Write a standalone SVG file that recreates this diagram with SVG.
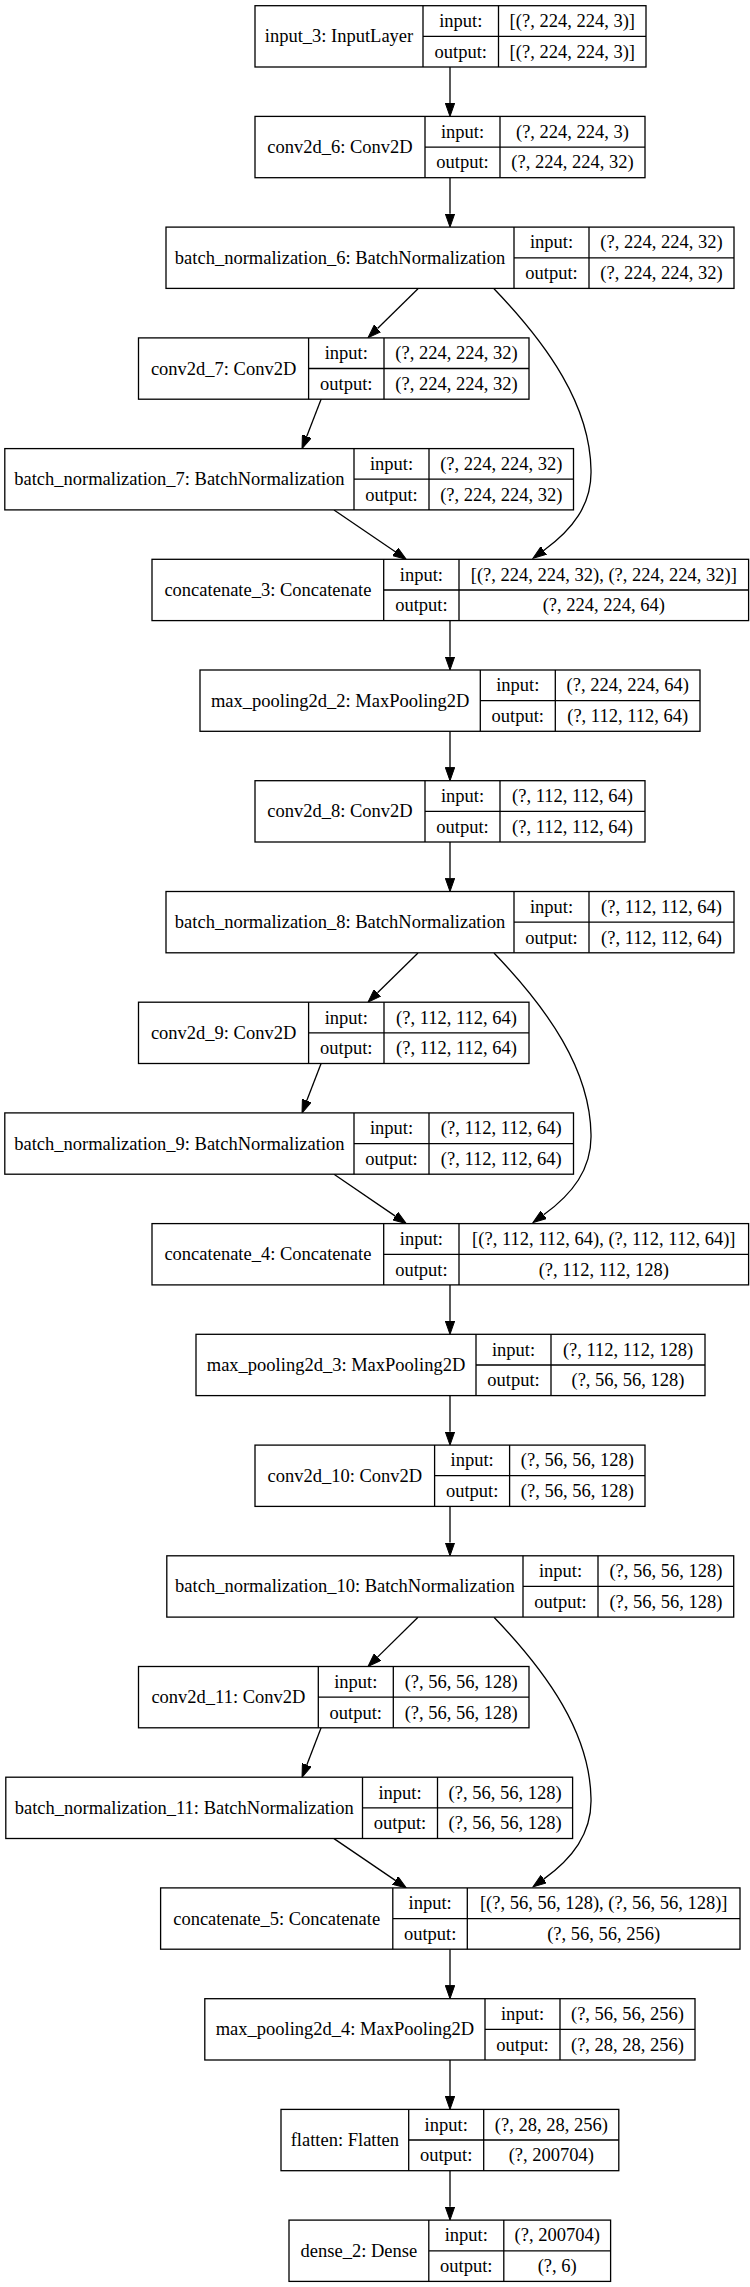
<svg xmlns="http://www.w3.org/2000/svg" width="750" height="2287" viewBox="0 0 750 2287">
<style>
.box{fill:#fff;stroke:#000;stroke-width:1.3}
.div{stroke:#000;stroke-width:1.3}
text{font-family:"Liberation Serif","Times New Roman",serif;font-size:18.5px;text-anchor:middle;fill:#000}
.e{fill:none;stroke:#000;stroke-width:1.3;marker-end:url(#ah)}
</style>
<defs>
<marker id="ah" markerUnits="userSpaceOnUse" viewBox="0 0 14 10" markerWidth="14" markerHeight="10" refX="0" refY="5" orient="auto"><path d="M0,0.3 L13.3,5 L0,9.7 Z" fill="#000" stroke="#000" stroke-width="1"/></marker>
</defs>
<rect width="750" height="2287" fill="#fff"/>
<g id="edges">
<path class="e" d="M450,67 L450,103.1"/>
<path class="e" d="M450,177.7 L450,213.8"/>
<path class="e" d="M418,288.7 L377.5,328.5"/>
<path class="e" d="M321.2,399 L306.8,436.3"/>
<path class="e" d="M494,288.7 C548,345 590,405 591,470 C592,505 572,530 543.7,550.5"/>
<path class="e" d="M334,510 L395.3,551.8"/>
<path class="e" d="M450,620.6 L450,656.7"/>
<path class="e" d="M450,731.3 L450,767.4"/>
<path class="e" d="M450,842 L450,878.2"/>
<path class="e" d="M418,953 L377.5,992.8"/>
<path class="e" d="M321.2,1063.3 L306.8,1100.6"/>
<path class="e" d="M494,953 C548,1009.3 590,1069.3 591,1134.3 C592,1169.3 572,1194.3 543.7,1214.8"/>
<path class="e" d="M334,1174.3 L395.3,1216.1"/>
<path class="e" d="M450,1284.9 L450,1321"/>
<path class="e" d="M450,1395.6 L450,1431.8"/>
<path class="e" d="M450,1506.4 L450,1542.5"/>
<path class="e" d="M418,1617.3 L377.5,1657.1"/>
<path class="e" d="M321.2,1727.6 L306.8,1764.9"/>
<path class="e" d="M494,1617.3 C548,1673.6 590,1733.6 591,1798.6 C592,1833.6 572,1858.6 543.7,1879.1"/>
<path class="e" d="M334,1838.6 L395.3,1880.4"/>
<path class="e" d="M450,1949.2 L450,1985.4"/>
<path class="e" d="M450,2060 L450,2096.1"/>
<path class="e" d="M450,2170.7 L450,2206.8"/>
</g>
<g id="input_3">
<rect class="box" x="255" y="5.7" width="391" height="61.3"/>
<path class="div" d="M423,5.7V67M498.5,5.7V67M423,36.35H646"/>
<text x="339" y="42.4">input_3: InputLayer</text>
<text x="460.8" y="27">input:</text><text x="460.8" y="57.7">output:</text>
<text x="572.3" y="27">[(?, 224, 224, 3)]</text><text x="572.3" y="57.7">[(?, 224, 224, 3)]</text>
</g>
<g id="conv2d_6">
<rect class="box" x="255" y="116.4" width="390" height="61.3"/>
<path class="div" d="M425,116.4V177.7M500,116.4V177.7M425,147.1H645"/>
<text x="340" y="153.1">conv2d_6: Conv2D</text>
<text x="462.5" y="137.7">input:</text><text x="462.5" y="168.4">output:</text>
<text x="572.5" y="137.7">(?, 224, 224, 3)</text><text x="572.5" y="168.4">(?, 224, 224, 32)</text>
</g>
<g id="batch_normalization_6">
<rect class="box" x="166" y="227.1" width="568" height="61.3"/>
<path class="div" d="M514,227.1V288.4M589,227.1V288.4M514,257.8H734"/>
<text x="340" y="263.8">batch_normalization_6: BatchNormalization</text>
<text x="551.5" y="248.4">input:</text><text x="551.5" y="279.1">output:</text>
<text x="661.5" y="248.4">(?, 224, 224, 32)</text><text x="661.5" y="279.1">(?, 224, 224, 32)</text>
</g>
<g id="conv2d_7">
<rect class="box" x="138.5" y="337.9" width="390.5" height="61.3"/>
<path class="div" d="M308.6,337.9V399.2M384,337.9V399.2M308.6,368.5H529"/>
<text x="223.6" y="374.5">conv2d_7: Conv2D</text>
<text x="346.3" y="359.2">input:</text><text x="346.3" y="389.9">output:</text>
<text x="456.5" y="359.2">(?, 224, 224, 32)</text><text x="456.5" y="389.9">(?, 224, 224, 32)</text>
</g>
<g id="batch_normalization_7">
<rect class="box" x="4.8" y="448.6" width="568.7" height="61.3"/>
<path class="div" d="M354,448.6V509.9M429,448.6V509.9M354,479.2H573.5"/>
<text x="179.4" y="485.2">batch_normalization_7: BatchNormalization</text>
<text x="391.5" y="469.9">input:</text><text x="391.5" y="500.6">output:</text>
<text x="501.3" y="469.9">(?, 224, 224, 32)</text><text x="501.3" y="500.6">(?, 224, 224, 32)</text>
</g>
<g id="concatenate_3">
<rect class="box" x="152" y="559.3" width="596.6" height="61.3"/>
<path class="div" d="M383.7,559.3V620.6M459,559.3V620.6M383.7,590H748.6"/>
<text x="267.9" y="596">concatenate_3: Concatenate</text>
<text x="421.4" y="580.6">input:</text><text x="421.4" y="611.3">output:</text>
<text x="603.8" y="580.6">[(?, 224, 224, 32), (?, 224, 224, 32)]</text><text x="603.8" y="611.3">(?, 224, 224, 64)</text>
</g>
<g id="max_pooling2d_2">
<rect class="box" x="200" y="670" width="500" height="61.3"/>
<path class="div" d="M480.3,670V731.3M555.3,670V731.3M480.3,700.7H700"/>
<text x="340.2" y="706.7">max_pooling2d_2: MaxPooling2D</text>
<text x="517.8" y="691.3">input:</text><text x="517.8" y="722">output:</text>
<text x="627.7" y="691.3">(?, 224, 224, 64)</text><text x="627.7" y="722">(?, 112, 112, 64)</text>
</g>
<g id="conv2d_8">
<rect class="box" x="255" y="780.7" width="390" height="61.3"/>
<path class="div" d="M425,780.7V842M500,780.7V842M425,811.4H645"/>
<text x="340" y="817.4">conv2d_8: Conv2D</text>
<text x="462.5" y="802">input:</text><text x="462.5" y="832.7">output:</text>
<text x="572.5" y="802">(?, 112, 112, 64)</text><text x="572.5" y="832.7">(?, 112, 112, 64)</text>
</g>
<g id="batch_normalization_8">
<rect class="box" x="166" y="891.5" width="568" height="61.3"/>
<path class="div" d="M514,891.5V952.8M589,891.5V952.8M514,922.1H734"/>
<text x="340" y="928.1">batch_normalization_8: BatchNormalization</text>
<text x="551.5" y="912.8">input:</text><text x="551.5" y="943.5">output:</text>
<text x="661.5" y="912.8">(?, 112, 112, 64)</text><text x="661.5" y="943.5">(?, 112, 112, 64)</text>
</g>
<g id="conv2d_9">
<rect class="box" x="138.5" y="1002.2" width="390.5" height="61.3"/>
<path class="div" d="M308.6,1002.2V1063.5M384,1002.2V1063.5M308.6,1032.8H529"/>
<text x="223.6" y="1038.8">conv2d_9: Conv2D</text>
<text x="346.3" y="1023.5">input:</text><text x="346.3" y="1054.2">output:</text>
<text x="456.5" y="1023.5">(?, 112, 112, 64)</text><text x="456.5" y="1054.2">(?, 112, 112, 64)</text>
</g>
<g id="batch_normalization_9">
<rect class="box" x="4.8" y="1112.9" width="568.7" height="61.3"/>
<path class="div" d="M354,1112.9V1174.2M429,1112.9V1174.2M354,1143.6H573.5"/>
<text x="179.4" y="1149.6">batch_normalization_9: BatchNormalization</text>
<text x="391.5" y="1134.2">input:</text><text x="391.5" y="1164.9">output:</text>
<text x="501.3" y="1134.2">(?, 112, 112, 64)</text><text x="501.3" y="1164.9">(?, 112, 112, 64)</text>
</g>
<g id="concatenate_4">
<rect class="box" x="152" y="1223.6" width="596.6" height="61.3"/>
<path class="div" d="M383.7,1223.6V1284.9M459,1223.6V1284.9M383.7,1254.3H748.6"/>
<text x="267.9" y="1260.3">concatenate_4: Concatenate</text>
<text x="421.4" y="1244.9">input:</text><text x="421.4" y="1275.6">output:</text>
<text x="603.8" y="1244.9">[(?, 112, 112, 64), (?, 112, 112, 64)]</text><text x="603.8" y="1275.6">(?, 112, 112, 128)</text>
</g>
<g id="max_pooling2d_3">
<rect class="box" x="196" y="1334.3" width="509" height="61.3"/>
<path class="div" d="M476,1334.3V1395.6M551,1334.3V1395.6M476,1365H705"/>
<text x="336" y="1371">max_pooling2d_3: MaxPooling2D</text>
<text x="513.5" y="1355.6">input:</text><text x="513.5" y="1386.3">output:</text>
<text x="628" y="1355.6">(?, 112, 112, 128)</text><text x="628" y="1386.3">(?, 56, 56, 128)</text>
</g>
<g id="conv2d_10">
<rect class="box" x="255" y="1445.1" width="390" height="61.3"/>
<path class="div" d="M434.6,1445.1V1506.4M509.6,1445.1V1506.4M434.6,1475.7H645"/>
<text x="344.8" y="1481.7">conv2d_10: Conv2D</text>
<text x="472.1" y="1466.4">input:</text><text x="472.1" y="1497.1">output:</text>
<text x="577.3" y="1466.4">(?, 56, 56, 128)</text><text x="577.3" y="1497.1">(?, 56, 56, 128)</text>
</g>
<g id="batch_normalization_10">
<rect class="box" x="166.8" y="1555.8" width="566.9" height="61.3"/>
<path class="div" d="M523,1555.8V1617.1M598,1555.8V1617.1M523,1586.4H733.7"/>
<text x="344.9" y="1592.4">batch_normalization_10: BatchNormalization</text>
<text x="560.5" y="1577.1">input:</text><text x="560.5" y="1607.8">output:</text>
<text x="665.9" y="1577.1">(?, 56, 56, 128)</text><text x="665.9" y="1607.8">(?, 56, 56, 128)</text>
</g>
<g id="conv2d_11">
<rect class="box" x="138.5" y="1666.5" width="390.5" height="61.3"/>
<path class="div" d="M318.3,1666.5V1727.8M393.3,1666.5V1727.8M318.3,1697.2H529"/>
<text x="228.4" y="1703.2">conv2d_11: Conv2D</text>
<text x="355.8" y="1687.8">input:</text><text x="355.8" y="1718.5">output:</text>
<text x="461.2" y="1687.8">(?, 56, 56, 128)</text><text x="461.2" y="1718.5">(?, 56, 56, 128)</text>
</g>
<g id="batch_normalization_11">
<rect class="box" x="5.8" y="1777.2" width="566.8" height="61.3"/>
<path class="div" d="M362.5,1777.2V1838.5M437.5,1777.2V1838.5M362.5,1807.9H572.6"/>
<text x="184.2" y="1813.9">batch_normalization_11: BatchNormalization</text>
<text x="400" y="1798.5">input:</text><text x="400" y="1829.2">output:</text>
<text x="505.1" y="1798.5">(?, 56, 56, 128)</text><text x="505.1" y="1829.2">(?, 56, 56, 128)</text>
</g>
<g id="concatenate_5">
<rect class="box" x="160.6" y="1887.9" width="579.4" height="61.3"/>
<path class="div" d="M392.8,1887.9V1949.2M467.3,1887.9V1949.2M392.8,1918.6H740"/>
<text x="276.7" y="1924.6">concatenate_5: Concatenate</text>
<text x="430.1" y="1909.2">input:</text><text x="430.1" y="1939.9">output:</text>
<text x="603.7" y="1909.2">[(?, 56, 56, 128), (?, 56, 56, 128)]</text><text x="603.7" y="1939.9">(?, 56, 56, 256)</text>
</g>
<g id="max_pooling2d_4">
<rect class="box" x="204.8" y="1998.7" width="490.2" height="61.3"/>
<path class="div" d="M485,1998.7V2060M560,1998.7V2060M485,2029.3H695"/>
<text x="344.9" y="2035.3">max_pooling2d_4: MaxPooling2D</text>
<text x="522.5" y="2020">input:</text><text x="522.5" y="2050.7">output:</text>
<text x="627.5" y="2020">(?, 56, 56, 256)</text><text x="627.5" y="2050.7">(?, 28, 28, 256)</text>
</g>
<g id="flatten">
<rect class="box" x="281" y="2109.4" width="337.8" height="61.3"/>
<path class="div" d="M408.7,2109.4V2170.7M483.7,2109.4V2170.7M408.7,2140H618.8"/>
<text x="344.9" y="2146">flatten: Flatten</text>
<text x="446.2" y="2130.7">input:</text><text x="446.2" y="2161.4">output:</text>
<text x="551.3" y="2130.7">(?, 28, 28, 256)</text><text x="551.3" y="2161.4">(?, 200704)</text>
</g>
<g id="dense_2">
<rect class="box" x="289" y="2220.1" width="321.6" height="61.3"/>
<path class="div" d="M428.8,2220.1V2281.4M503.8,2220.1V2281.4M428.8,2250.8H610.6"/>
<text x="358.9" y="2256.8">dense_2: Dense</text>
<text x="466.3" y="2241.4">input:</text><text x="466.3" y="2272.1">output:</text>
<text x="557.2" y="2241.4">(?, 200704)</text><text x="557.2" y="2272.1">(?, 6)</text>
</g>
</svg>
